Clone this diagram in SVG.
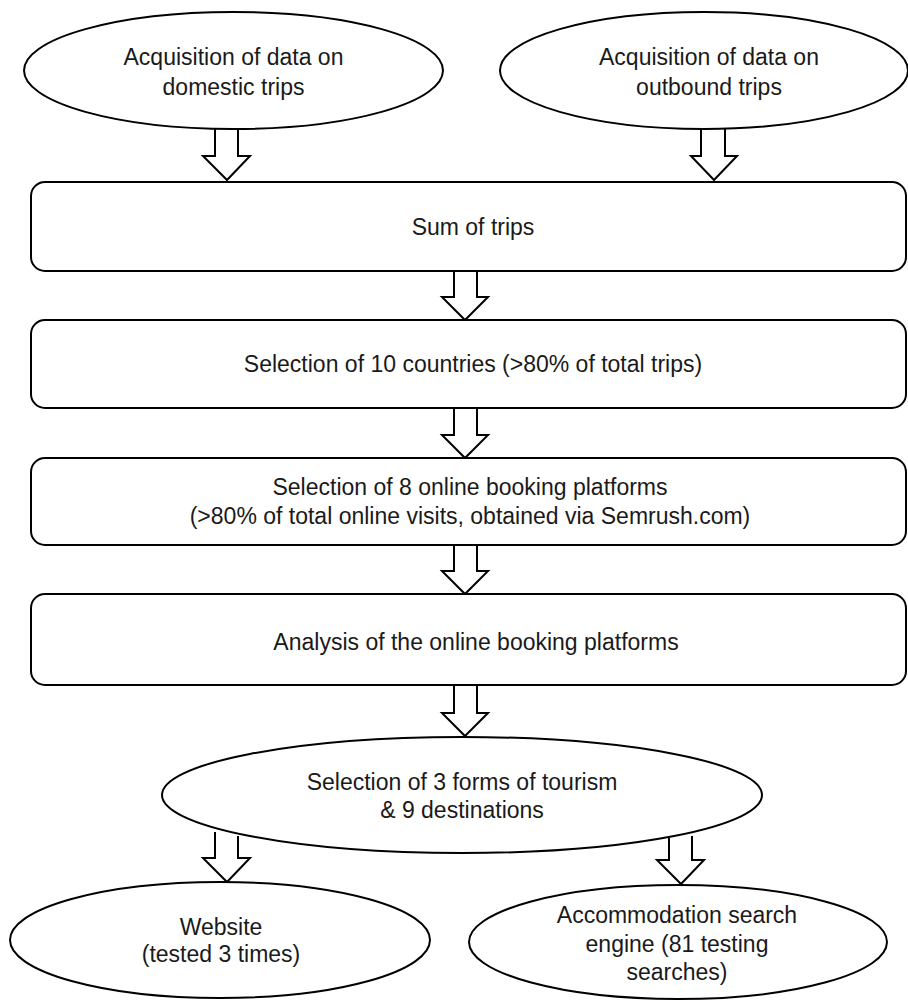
<svg xmlns="http://www.w3.org/2000/svg" width="908" height="1000" viewBox="0 0 908 1000">
<style>
.s{fill:#fff;stroke:#000;stroke-width:2}
.a{fill:#fff;stroke:#000;stroke-width:2;stroke-linejoin:miter}
text{font-family:"Liberation Sans",Arial,sans-serif;font-size:23px;fill:#1a1a1a;text-anchor:middle}
</style>
<rect width="908" height="1000" fill="#fff"/>
<g id="connectors">
<path class="a" d="M215,128 V156 H203 L227,180 L250,156 H238 V128"/>
<path class="a" d="M701,128 V156 H691 L714,180 L737,156 H725 V128"/>
<path class="a" d="M454,271 V297 H442 L465,320 L488,297 H477 V271"/>
<path class="a" d="M454,408 V435 H442 L465,458 L488,435 H477 V408"/>
<path class="a" d="M454,545 V571 H442 L465,594 L488,571 H477 V545"/>
<path class="a" d="M454,685 V713 H442 L465,736 L488,713 H477 V685"/>
<path class="a" d="M215,832 V858 H203 L227,882 L250,858 H238 V836"/>
<path class="a" d="M669,838 V860 H657 L681,884 L704,860 H692 V836"/>
</g>
<g id="n1"><ellipse class="s" cx="233.5" cy="70.5" rx="209.5" ry="58.5"/>
<text x="233.5" y="65">Acquisition of data on</text><text x="233.5" y="95">domestic trips</text></g>
<g id="n2"><ellipse class="s" cx="704" cy="70.5" rx="204" ry="58.5"/>
<text x="709" y="65">Acquisition of data on</text><text x="709" y="95">outbound trips</text></g>
<g id="n3"><rect class="s" x="31" y="182" width="875" height="89" rx="14"/>
<text x="473" y="235">Sum of trips</text></g>
<g id="n4"><rect class="s" x="31" y="320" width="875" height="88" rx="14"/>
<text x="473" y="372">Selection of 10 countries (&gt;80% of total trips)</text></g>
<g id="n5"><rect class="s" x="31" y="458" width="875" height="87" rx="14"/>
<text x="470" y="495">Selection of 8 online booking platforms</text>
<text x="470" y="524">(&gt;80% of total online visits, obtained via Semrush.com)</text></g>
<g id="n6"><rect class="s" x="31" y="594" width="875" height="91" rx="14"/>
<text x="476" y="650">Analysis of the online booking platforms</text></g>
<g id="n7"><ellipse class="s" cx="462" cy="795" rx="300" ry="58"/>
<text x="462" y="790">Selection of 3 forms of tourism</text><text x="462" y="818">&amp; 9 destinations</text></g>
<g id="n8"><ellipse class="s" cx="220" cy="940" rx="210" ry="58"/>
<text x="221" y="935">Website</text><text x="221" y="962">(tested 3 times)</text></g>
<g id="n9"><ellipse class="s" cx="678" cy="942" rx="209" ry="57"/>
<text x="677" y="923">Accommodation search</text><text x="677" y="952">engine (81 testing</text><text x="677" y="980">searches)</text></g>
</svg>
